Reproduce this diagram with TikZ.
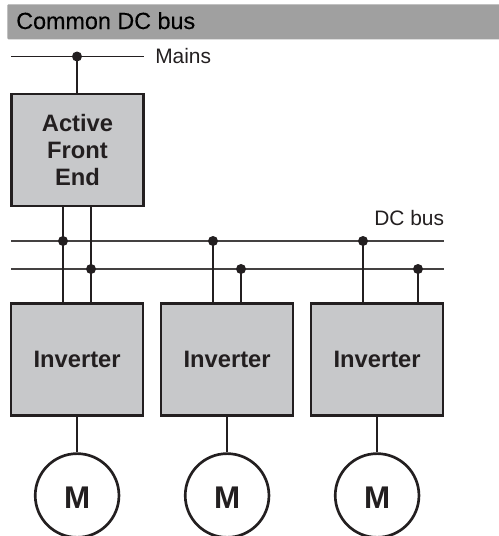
\documentclass[tikz,border=0pt]{standalone}
\usepackage{fontspec}
\setmainfont{Liberation Sans}
\newfontfamily\titlefont[FakeBold=0.25]{Liberation Sans}
\definecolor{ink}{HTML}{231F20}
\definecolor{boxgray}{HTML}{C7C8CA}
\definecolor{band}{HTML}{A0A0A0}
\tikzset{
  x=0.75pt,y=-0.75pt,
  wire/.style={draw=ink,line width=1.25pt,line cap=butt},
  busline/.style={draw=ink!85,line width=1.25pt},
  unitbox/.style={draw=ink,fill=boxgray,line width=2pt,inner sep=0pt,minimum width=99pt,text=ink,align=center},
  unitlab/.style={anchor=base,inner sep=0pt,text=ink,font=\fontsize{17.8pt}{20pt}\selectfont\bfseries},
  motor/.style={circle,draw=ink,line width=2pt,fill=white,inner sep=0pt,minimum size=62.8pt},
  motorlab/.style={anchor=base,inner sep=0pt,text=ink,font=\fontsize{23.5pt}{26pt}\selectfont\bfseries},
  jdot/.style={circle,fill=ink,inner sep=0pt,minimum size=7.5pt},
  lab/.style={anchor=base west,inner sep=0pt,text=ink,font=\fontsize{15.7pt}{18pt}\selectfont},
}
\begin{document}
\begin{tikzpicture}
\useasboundingbox (0,0) rectangle (499,536);
\node[fill=band,rounded corners=0.8pt,inner sep=0pt,minimum width=369.75pt,minimum height=26.25pt,anchor=north west] (band) at (7,4) {};
\node[anchor=base west,inner sep=0pt,text=black,font=\titlefont\fontsize{17.5pt}{20pt}\selectfont] (title) at (16,29) {Common DC bus};

% Mains
\coordinate (mainsL) at (11,56.5);
\coordinate (mainsR) at (144,56.5);
\node[jdot] (mainsdot) at (77,56.5) {};
\node[lab] (mains) at (155,63.5) {Mains};
\draw[wire] (mainsL) -- (mainsR);

% DC bus
\coordinate (busAL) at (11,241);
\coordinate (busAR) at (444,241);
\coordinate (busBL) at (11,269);
\coordinate (busBR) at (444,269);
\node[lab] (dcbus) at (374,225) {DC bus};
\draw[busline] (busAL) -- (busAR);
\draw[busline] (busBL) -- (busBR);

% Units
\node[unitbox,minimum height=84pt] (afe) at (77.5,150) {};
\node[unitlab] (t1) at (77.5,131) {Active};
\node[unitlab] (t2) at (77.5,158.7) {Front};
\node[unitlab] (t3) at (77.5,185.7) {End};
\foreach \n/\x in {a/77.1,b/227.1,c/377.1}{
  \node[unitbox,minimum height=84pt] (inv\n) at (\x,359.5) {};
  \node[unitlab] (invt\n) at (\x,367.7) {Inverter};
  \node[motor] (m\n) at (\x,495.5) {};
  \node[motorlab] (mt\n) at (\x,508) {M};
  \draw[wire] (inv\n.south) -- (m\n.north);
}

% Junctions
\node[jdot] (j1) at (63,241) {};
\node[jdot] (j2) at (91,269) {};
\node[jdot] (j3) at (213,241) {};
\node[jdot] (j4) at (241,269) {};
\node[jdot] (j5) at (363,241) {};
\node[jdot] (j6) at (418,269) {};

% Connectors
\draw[wire] (mainsdot.center) -- (afe.north -| mainsdot);
\draw[wire] (afe.south -| j1) -- (inva.north -| j1);
\draw[wire] (afe.south -| j2) -- (inva.north -| j2);
\draw[wire] (j3.center) -- (invb.north -| j3);
\draw[wire] (j4.center) -- (invb.north -| j4);
\draw[wire] (j5.center) -- (invc.north -| j5);
\draw[wire] (j6.center) -- (invc.north -| j6);
\end{tikzpicture}
\end{document}
